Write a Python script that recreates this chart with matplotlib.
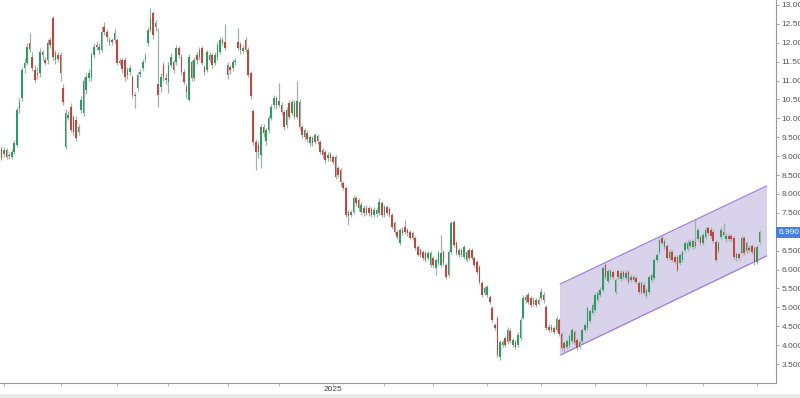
import matplotlib
matplotlib.use("Agg")
import matplotlib.pyplot as plt
import matplotlib.transforms as mtransforms
from matplotlib.patches import Rectangle

plt.rcParams["font.family"] = ["Liberation Sans", "DejaVu Sans"]

# daily candles, 2024-06-28 .. 2025-09-03
opens = [
    9.20, 9.05, 9.15, 9.00, 8.98, 9.10, 9.30, 10.28, 10.54, 11.33,
    11.47, 12.00, 11.62, 11.28, 11.15, 11.20, 11.75, 11.54, 11.54, 12.07,
    12.65, 11.54, 11.68, 11.68, 10.80, 9.24, 10.00, 10.30, 10.04, 9.96,
    9.64, 10.22, 10.14, 10.75, 11.07, 11.07, 11.68, 11.94, 11.80, 11.80,
    12.42, 12.29, 12.00, 12.07, 12.07, 12.07, 11.47, 11.54, 11.54, 11.15,
    11.23,
    11.10, 10.62, 10.80, 11.18, 11.33, 11.58, 12.00, 12.34, 12.79, 12.42,
    10.90, 10.83, 11.41, 11.07, 10.96, 11.41, 11.49, 11.49, 11.86, 11.62,
    11.23, 10.83, 10.49, 11.49, 11.07, 11.68, 11.62, 11.86, 11.36, 11.28,
    11.54, 11.68, 11.47, 11.62, 11.75, 12.07, 12.02, 11.41, 11.36, 11.33,
    11.49, 12.02, 11.96, 11.78, 12.07, 11.81,
    11.20, 10.20, 9.38, 9.30, 9.03, 9.77, 9.40, 9.69, 10.01, 10.35,
    10.54, 10.35, 10.35, 10.17, 9.83, 10.41, 10.14, 10.41, 10.04, 10.43,
    9.77, 9.50, 9.61, 9.35, 9.48, 9.38, 9.52, 9.38, 9.16, 9.11,
    8.95, 9.05, 8.98, 8.98, 8.69, 8.63, 8.30, 8.16, 7.52, 7.45,
    7.52, 7.90, 7.84, 7.52, 7.63, 7.50, 7.62, 7.60, 7.45, 7.58,
    7.50,
    7.77, 7.45, 7.66, 7.60, 7.45, 7.24, 7.00, 6.70, 7.05, 7.13,
    7.05, 7.00, 6.98, 6.84, 6.60, 6.52, 6.47, 6.44, 6.31, 6.12,
    6.31, 6.04, 6.17, 6.12, 6.47, 6.12, 5.85, 6.47, 7.26, 6.70,
    6.39, 6.52, 6.33, 6.25, 6.52, 6.52, 6.31, 6.20, 6.07, 5.64,
    5.38, 5.33, 5.27, 4.98, 4.53, 4.72, 3.69,
    4.00, 4.19, 4.08, 4.38, 4.00, 4.08, 4.00, 4.20, 4.72, 5.20,
    5.33, 5.25, 5.10, 5.20, 5.10, 5.25, 5.33, 5.00, 4.48, 4.40,
    4.45, 4.40, 4.67, 4.30, 4.05, 3.95, 4.00, 4.10, 4.35, 4.14,
    3.95, 4.10, 4.40, 4.45, 4.65, 4.85, 4.93, 5.20, 5.33, 5.46,
    6.12, 5.70, 5.80, 5.93, 5.40, 5.95, 5.75, 5.93, 5.78, 5.93,
    5.72, 5.80,
    5.78, 5.64, 5.40, 5.60, 5.30, 5.40, 5.72, 5.78, 6.25, 6.47,
    6.84, 6.60, 6.62, 6.30, 6.47, 6.33, 6.33, 6.17, 6.25, 6.52,
    6.55, 6.62, 6.60, 6.72, 6.80, 6.85, 6.70, 6.86, 7.10, 7.05,
    7.00, 6.73, 6.50, 6.86, 7.00, 6.80, 6.90, 6.88, 6.84, 6.30,
    6.40, 6.44, 6.84, 6.50, 6.57, 6.62, 6.57, 6.20, 6.73,
]
closes = [
    8.95, 9.15, 8.98, 9.04, 9.10, 9.35, 10.22, 10.43, 11.28, 11.47,
    11.90, 11.83, 11.33, 11.02, 11.20, 11.75, 11.68, 11.47, 12.00, 11.94,
    11.62, 11.73, 11.58, 11.20, 10.43, 10.14, 10.10, 9.70, 9.64, 9.48,
    9.77, 10.49, 11.00, 11.10, 11.20, 11.68, 11.90, 11.89, 11.90, 12.29,
    12.29, 12.15, 12.07, 12.02, 12.26, 11.47, 11.52, 11.30, 11.10, 11.28,
    11.33,
    10.62, 10.58, 11.15, 11.23, 11.49, 11.62, 12.34, 12.66, 12.20, 12.52,
    10.62, 11.10, 11.10, 11.02, 11.41, 11.62, 11.28, 11.86, 11.68, 11.23,
    10.96, 10.70, 11.62, 11.07, 11.54, 11.54, 11.81, 11.47, 11.23, 11.75,
    11.68, 11.40, 11.68, 11.94, 12.07, 12.00, 11.86, 11.15, 11.28, 11.49,
    11.52, 11.86, 11.81, 11.86, 11.81, 11.15,
    10.60, 9.38, 9.10, 9.10, 9.77, 9.61, 9.69, 10.01, 10.30, 10.54,
    10.35, 10.45, 10.17, 9.77, 10.22, 10.04, 10.43, 10.04, 10.45, 9.77,
    9.56, 9.68, 9.45, 9.50, 9.35, 9.56, 9.40, 9.11, 9.03, 8.90,
    9.03, 8.95, 8.85, 8.45, 8.50, 8.32, 8.16, 7.45, 7.42, 7.52,
    7.90, 7.76, 7.63, 7.71, 7.50, 7.63, 7.50, 7.45, 7.58, 7.48,
    7.80,
    7.45, 7.66, 7.50, 7.45, 7.13, 7.00, 6.86, 7.05, 6.98, 7.00,
    6.97, 6.84, 6.84, 6.57, 6.39, 6.39, 6.31, 6.25, 6.44, 6.44,
    6.12, 6.25, 6.44, 6.44, 6.17, 5.80, 6.47, 7.24, 6.65, 6.44,
    6.52, 6.39, 6.60, 6.47, 6.31, 6.31, 6.12, 5.93, 5.67, 5.33,
    5.51, 5.54, 5.14, 4.67, 4.45, 3.74, 4.08,
    4.08, 4.00, 4.40, 4.10, 4.14, 3.95, 4.28, 4.67, 5.25, 5.27,
    5.14, 5.07, 5.20, 5.07, 5.20, 5.40, 5.20, 4.45, 4.40, 4.48,
    4.35, 4.70, 4.30, 3.92, 3.93, 4.10, 4.25, 4.40, 4.05, 3.93,
    4.08, 4.40, 4.53, 4.98, 4.90, 5.06, 5.33, 5.38, 5.46, 6.04,
    5.80, 5.95, 5.95, 5.80, 5.72, 5.80, 5.90, 5.80, 5.90, 5.67,
    5.80, 5.72,
    5.67, 5.40, 5.64, 5.38, 5.45, 5.80, 5.86, 6.25, 6.38, 6.78,
    6.70, 6.75, 6.30, 6.47, 6.25, 6.20, 5.99, 6.38, 6.47, 6.70,
    6.70, 6.72, 6.75, 6.62, 7.05, 6.70, 6.92, 7.05, 6.98, 6.90,
    6.75, 6.25, 6.70, 7.05, 6.92, 6.90, 6.82, 6.80, 6.33, 6.40,
    6.30, 6.84, 6.44, 6.70, 6.52, 6.47, 6.20, 6.60, 6.99,
]
highs = [
    9.28, 9.25, 9.22, 9.12, 9.18, 9.42, 10.30, 10.55, 11.35, 11.60,
    12.00, 12.26, 11.75, 11.40, 11.35, 11.85, 11.80, 11.62, 12.10, 12.15,
    12.72, 11.80, 11.75, 11.75, 10.90, 10.25, 10.20, 10.40, 10.10, 10.05,
    9.85, 10.60, 11.10, 11.20, 11.30, 11.75, 12.00, 12.05, 12.00, 12.45,
    12.55, 12.35, 12.15, 12.12, 12.35, 12.12, 11.60, 11.60, 11.62, 11.35,
    11.42,
    11.15, 10.70, 11.22, 11.30, 11.58, 11.72, 12.42, 12.92, 12.85, 12.60,
    12.40, 11.20, 11.48, 11.20, 11.50, 11.72, 11.55, 11.95, 11.92, 11.70,
    11.30, 10.90, 11.70, 11.55, 11.62, 11.75, 11.90, 11.92, 11.42, 11.82,
    11.75, 11.72, 11.75, 12.02, 12.15, 12.15, 12.50, 11.48, 11.42, 11.58,
    11.60, 12.40, 12.02, 11.95, 12.15, 11.88,
    11.25, 10.25, 9.45, 9.40, 9.85, 9.85, 9.75, 10.08, 10.38, 10.62,
    10.60, 10.94, 10.42, 10.22, 10.30, 10.48, 10.52, 10.48, 11.00, 10.50,
    9.82, 9.75, 9.68, 9.56, 9.54, 9.62, 9.58, 9.42, 9.22, 9.15,
    9.10, 9.12, 9.03, 9.02, 8.75, 8.68, 8.35, 8.20, 7.58, 7.58,
    7.98, 7.95, 7.88, 7.78, 7.70, 7.70, 7.68, 7.66, 7.66, 7.64,
    7.88,
    7.82, 7.72, 7.72, 7.66, 7.50, 7.28, 7.05, 7.10, 7.12, 7.31,
    7.10, 7.05, 7.02, 6.88, 6.65, 6.58, 6.52, 6.50, 6.50, 6.50,
    6.36, 6.30, 6.50, 6.92, 6.52, 6.18, 6.52, 7.28, 7.30, 6.75,
    6.58, 6.58, 6.66, 6.53, 6.58, 6.57, 6.36, 6.25, 6.12, 5.70,
    5.57, 5.60, 5.32, 5.03, 4.58, 4.78, 4.15,
    4.15, 4.25, 4.48, 4.45, 4.20, 4.14, 4.35, 4.75, 5.32, 5.35,
    5.40, 5.30, 5.28, 5.26, 5.28, 5.50, 5.40, 5.05, 4.55, 4.55,
    4.52, 4.76, 4.72, 4.35, 4.10, 4.16, 4.30, 4.46, 4.40, 4.20,
    4.14, 4.46, 4.60, 5.04, 4.96, 5.12, 5.40, 5.45, 5.55, 6.10,
    6.18, 6.02, 6.02, 6.00, 5.78, 6.02, 5.98, 6.00, 5.98, 6.00,
    5.88, 5.86,
    5.84, 5.70, 5.70, 5.66, 5.52, 5.86, 5.92, 6.30, 6.45, 6.84,
    6.92, 6.82, 6.68, 6.54, 6.52, 6.38, 6.38, 6.44, 6.52, 6.76,
    6.78, 6.80, 6.82, 7.37, 7.10, 6.92, 6.98, 7.12, 7.16, 7.12,
    7.06, 6.78, 6.76, 7.12, 7.23, 6.96, 6.96, 6.94, 6.90, 6.46,
    6.46, 6.90, 6.90, 6.76, 6.64, 6.68, 6.62, 6.66, 7.05,
]
lows = [
    8.90, 8.98, 8.92, 8.92, 8.93, 9.05, 9.25, 10.15, 10.45, 11.20,
    11.40, 11.75, 11.25, 10.95, 11.05, 11.10, 11.55, 11.40, 11.45, 11.85,
    11.55, 11.45, 11.50, 11.00, 10.35, 9.20, 9.95, 9.65, 9.55, 9.40,
    9.55, 10.15, 10.05, 10.65, 11.00, 11.00, 11.60, 11.80, 11.70, 11.75,
    12.20, 12.05, 11.95, 11.95, 12.00, 11.40, 11.40, 11.20, 11.00, 11.05,
    11.15,
    10.55, 10.28, 10.72, 11.10, 11.25, 11.50, 11.92, 12.28, 12.10, 12.30,
    10.30, 10.70, 11.00, 10.90, 10.67, 11.35, 11.20, 11.40, 11.60, 11.15,
    10.90, 10.55, 10.45, 11.00, 11.00, 11.45, 11.55, 11.40, 11.15, 11.22,
    11.48, 11.32, 11.40, 11.55, 11.70, 11.92, 11.80, 11.05, 11.18, 11.25,
    11.42, 11.80, 11.70, 11.70, 11.75, 11.10,
    10.50, 9.30, 8.63, 8.95, 8.69, 9.50, 9.30, 9.62, 9.95, 10.28,
    10.25, 10.30, 10.10, 9.70, 9.75, 9.98, 10.08, 9.98, 9.98, 9.70,
    9.48, 9.44, 9.38, 9.28, 9.28, 9.32, 9.32, 9.05, 8.95, 8.82,
    8.88, 8.88, 8.78, 8.40, 8.44, 8.20, 8.10, 7.40, 7.18, 7.38,
    7.48, 7.68, 7.55, 7.45, 7.42, 7.44, 7.42, 7.38, 7.38, 7.40,
    7.44,
    7.40, 7.40, 7.45, 7.40, 7.08, 6.95, 6.80, 6.65, 6.92, 6.95,
    6.90, 6.80, 6.78, 6.52, 6.35, 6.33, 6.26, 6.20, 6.25, 6.08,
    6.06, 5.86, 6.12, 6.08, 6.12, 5.75, 5.80, 6.42, 6.60, 6.38,
    6.33, 6.34, 6.28, 6.20, 6.26, 6.26, 6.06, 5.88, 5.62, 5.28,
    5.32, 5.28, 5.08, 4.62, 4.40, 3.70, 3.60,
    3.95, 3.95, 4.02, 4.05, 3.95, 3.90, 3.95, 4.15, 4.68, 5.12,
    5.08, 5.00, 5.03, 5.02, 5.05, 5.20, 5.12, 4.40, 4.34, 4.34,
    4.30, 4.35, 4.25, 3.86, 3.80, 3.90, 3.95, 4.05, 4.00, 3.88,
    3.90, 4.05, 4.35, 4.40, 4.60, 4.80, 4.88, 5.15, 5.28, 5.40,
    5.75, 5.65, 5.75, 5.74, 5.35, 5.74, 5.70, 5.74, 5.72, 5.62,
    5.66, 5.66,
    5.62, 5.35, 5.35, 5.33, 5.26, 5.35, 5.66, 5.72, 6.20, 6.42,
    6.64, 6.55, 6.25, 6.25, 6.20, 6.14, 5.94, 6.12, 6.20, 6.47,
    6.50, 6.56, 6.54, 6.56, 6.75, 6.64, 6.65, 6.80, 6.92, 6.84,
    6.70, 6.20, 6.45, 6.80, 6.86, 6.74, 6.76, 6.74, 6.28, 6.24,
    6.25, 6.40, 6.38, 6.45, 6.46, 6.42, 6.12, 6.15, 6.68,
]

# month starts (candle index); only the year change is labelled
tick_pos = [1, 23, 45, 65, 88, 108, 129, 149, 168, 189, 210, 231, 251, 273, 294]
tick_labels = ["", "", "", "", "", "", "2025", "", "", "", "", "", "", "", ""]

# channel drawn on the chart
chan_x = [217.5, 297.7]
chan_lower = [3.74, 6.36]
chan_upper = [5.62, 8.21]

price_ticks = [3.5, 4.0, 4.5, 5.0, 5.5, 6.0, 6.5, 7.0, 7.5, 8.0, 8.5, 9.0,
               9.5, 10.0, 10.5, 11.0, 11.5, 12.0, 12.5, 13.0]

GREEN = "#2f9a63"
RED = "#c0473f"

fig = plt.figure(figsize=(8, 3.98), dpi=100)

# navigator strip at the bottom
fig.patches.append(Rectangle((0, 0), 1, 4 / 398, transform=fig.transFigure,
                             facecolor="#ebebeb", edgecolor="none", zorder=0))

ax = fig.add_axes([0, 15 / 398, 776 / 800, 383 / 398])
ax.patch.set_alpha(0)

# channel
ax.fill_between(chan_x, chan_lower, chan_upper, color="#d9d2eb", lw=0, zorder=1)
ax.plot(chan_x, chan_lower, color="#a07fd8", lw=0.9, zorder=2)
ax.plot(chan_x, chan_upper, color="#a07fd8", lw=0.9, zorder=2)
ax.plot([chan_x[0], chan_x[0]], [chan_lower[0], chan_upper[0]], color="#cfc6e6", lw=0.6, zorder=2)

# candles
xs = list(range(len(closes)))
colors = [GREEN if c >= o else RED for o, c in zip(opens, closes)]
ax.vlines(xs, lows, highs, color="#9fb3a8", lw=0.9, zorder=3)
bottoms = [min(o, c) for o, c in zip(opens, closes)]
heights = [max(abs(c - o), 0.03) for o, c in zip(opens, closes)]
ax.bar(xs, heights, bottom=bottoms, width=0.62, color=colors, lw=0, zorder=4)

ax.set_xlim(-0.556, 301.4)
ax.set_ylim(3.0, 13.13)

# the 7.000 label sits under the last-price tag, so it is left blank
ax.yaxis.tick_right()
ax.set_yticks(price_ticks)
ax.set_yticklabels(["" if v == 7.0 else f"{v:.3f}" for v in price_ticks])
ax.tick_params(axis="y", length=2.5, width=0.6, color="#999999", labelsize=6.0,
               labelcolor="#555555", pad=1.5)
ax.set_xticks(tick_pos)
ax.set_xticklabels(tick_labels)
ax.tick_params(axis="x", length=2, width=0.6, color="#aaaaaa", labelsize=6,
               labelcolor="#444444", pad=0.5)

for side in ["top", "left"]:
    ax.spines[side].set_visible(False)
for side in ["right", "bottom"]:
    ax.spines[side].set_color("#999999")
    ax.spines[side].set_linewidth(0.8)

# last price tag
trans = mtransforms.blended_transform_factory(ax.transAxes, ax.transData)
ax.text(1.003, closes[-1], f"{closes[-1]:.3f}", transform=trans, ha="left", va="center",
        fontsize=6.0, color="white", clip_on=False, zorder=6,
        bbox=dict(boxstyle="square,pad=0.25", fc="#4a7fe0", ec="none"))

fig.savefig("out.png", dpi=100)
